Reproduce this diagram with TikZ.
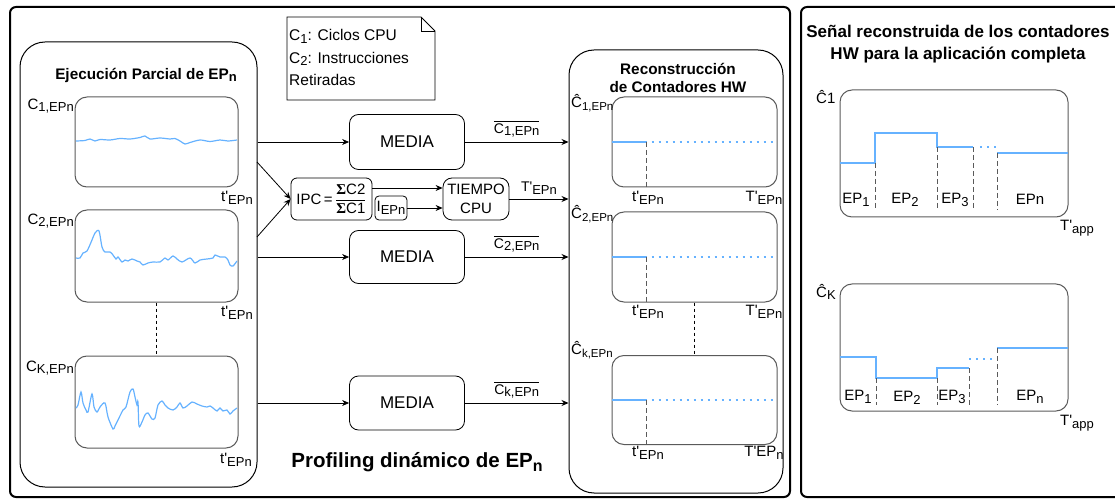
\documentclass[tikz,border=0pt]{standalone}
\usepackage{amsmath}
\usepackage{fontspec}
\setmainfont{Liberation Sans}
\newfontfamily\serifsym{Liberation Serif}
\usetikzlibrary{arrows.meta, positioning}

\definecolor{sigblue}{RGB}{102,178,255}
\definecolor{boxgray}{RGB}{90,90,90}
\newcommand{\sub}[1]{\raisebox{-0.35ex}{\fontsize{13}{13}\selectfont #1}}
\newcommand{\subs}[1]{\raisebox{-0.4ex}{\fontsize{11.5}{11.5}\selectfont #1}}
\newcommand{\tq}{\textquotesingle}
\newcommand{\sig}{{\serifsym\bfseries Σ}}

\begin{document}
\begin{tikzpicture} [x=1pt, y=-1pt,
    panel/.style = {draw, line width=1pt, rounded corners=25pt},
    plotbox/.style = {draw=boxgray, line width=1pt, rounded corners=12pt},
    blk/.style = {draw, line width=0.8pt, rounded corners=9pt, align=center},
    sig/.style = {sigblue, line width=1.2pt},
    dots/.style = {sigblue, line width=1.8pt, dash pattern=on 2pt off 5pt},
    lbl/.style = {font=\fontsize{15}{15}\selectfont, inner sep=0pt},
    arr/.style = {-{Stealth[length=7pt, width=6pt]}, line width=0.8pt},
    cut/.style = {boxgray, dash pattern=on 5pt off 3pt, line width=0.9pt},
    ttl/.style = {font=\bfseries\fontsize{15.3}{18}\selectfont, align=center}]
    \useasboundingbox (0,0) rectangle (1115,502);

    % frames
    \draw [line width=2pt, rounded corners=6pt] (10,7) rectangle (790,497);
    \draw [line width=2pt, rounded corners=6pt] (801,7) rectangle (1125,497);

    % partial execution
    \node (ejec) [panel, minimum width=237pt, minimum height=445pt] at (138.5,264.5) {};
    \node (ejtit) [ttl] at (146,75) {Ejecución Parcial de EP\sub{n}};
    \node (p1) [plotbox, minimum width=163pt, minimum height=90pt] at (156.5,142) {};
    \node (p2) [plotbox, minimum width=163pt, minimum height=92pt] at (156.5,256) {};
    \node (pk) [plotbox, minimum width=163pt, minimum height=92pt] at (156.5,402) {};
    \node (c1) [lbl, anchor=east] at (74,106) {C\sub{1,EPn}};
    \node (c2) [lbl, anchor=east] at (74,221) {C\sub{2,EPn}};
    \node (ck) [lbl, anchor=east] at (74,368) {C\sub{K,EPn}};
    \node (t1) [lbl] at (237,198) {t\tq\sub{EPn}};
    \node (t2) [lbl] at (237,313) {t\tq\sub{EPn}};
    \node (tk) [lbl] at (236,460) {t\tq\sub{EPn}};
    \draw [dashed] (p2) -- (pk);

    \draw [sig] plot [smooth, tension=0.5] coordinates {(76,141) (85,140.5) (90,139) (95,141) (100,139.5) (110,140) (120,138.5) (130,139) (140,137.5) (145,136) (150,139) (160,138) (170,139) (175,138.5) (180,141) (185,144) (190,142.5) (200,140) (210,141.5) (220,140) (228,141) (237,140)};
    \draw [sig] plot [smooth, tension=0.5] coordinates {(76,258) (80,258) (83,253) (87,251) (92,240) (95,233) (99,231) (102,247) (105,252) (110,252) (113,255) (116,259) (118,257) (122,262) (125,260) (128,261) (132,259) (137,261) (140,262) (143,265) (148,263) (153,262) (160,262) (165,258) (168,260) (173,256) (177,259) (182,262) (190,258) (195,263) (200,260) (207,259) (213,258) (215,255) (220,257) (225,257) (228,260) (230,265) (233,266) (237,261)};
    \draw [sig] plot [smooth, tension=0.5] coordinates {(76,408) (78,405) (81,392) (83,403) (86,410) (88,412) (92,394) (94,407) (97,412) (100,407) (105,403) (108,417) (113,429) (115,426) (118,420) (123,410) (126,407) (130,392) (133,389) (135,397) (137,405) (138,402) (139,426) (142,422) (145,415) (148,413) (152,419) (155,418) (158,405) (162,401) (165,405) (168,408) (173,410) (177,407) (180,403) (183,408) (187,406) (192,402) (197,404) (202,406) (207,407) (210,406) (213,408) (217,411) (220,408) (223,411) (227,410) (230,414) (233,411) (237,408)};

    % note
    \draw [line width=0.8pt] (287,17) -- (421,17) -- (435,31) -- (435,100) -- (287,100) -- cycle;
    \draw [line width=0.8pt] (421,17) -- (421,31) -- (435,31);
    \node (note) [anchor=west, align=left, inner sep=0pt, font=\fontsize{15.5}{22.5}\selectfont] at (289,57.5) {C\sub{1}: Ciclos CPU\\C\sub{2}: Instrucciones\\Retiradas};

    % profiling
    \node (media1) [blk, minimum width=115pt, minimum height=55pt, font=\fontsize{17}{17}\selectfont] at (407,142) {MEDIA};
    \node (media2) [blk, minimum width=115pt, minimum height=53pt, font=\fontsize{17}{17}\selectfont] at (407,257) {MEDIA};
    \node (mediak) [blk, minimum width=115pt, minimum height=54pt, font=\fontsize{17}{17}\selectfont] at (407,403) {MEDIA};
    \node (ipc) [blk, rounded corners=6pt, minimum width=81pt, minimum height=42pt, inner sep=1pt, font=\fontsize{15}{15}\selectfont] at (331.5,199) {IPC\,=\,$\dfrac{\text{\sig C2}}{\text{\sig C1}}$};
    \node (iep) [blk, rounded corners=4pt, minimum width=32pt, minimum height=24pt, inner sep=1pt, font=\fontsize{15}{15}\selectfont] at (391,208) {I\sub{EPn}};
    \node (tiempo) [blk, minimum width=66pt, minimum height=42pt, font=\fontsize{15}{19}\selectfont] at (476,199) {TIEMPO\\CPU};
    \node (proftit) [font=\bfseries\fontsize{20.5}{20.5}\selectfont] at (417,462) {Profiling dinámico de EP\raisebox{-0.4ex}{\fontsize{16}{16}\selectfont n}};

    \coordinate (e1) at (257,162);
    \coordinate (e2) at (257,237);
    \coordinate (i1) at (372,188);
    \path (i1 -| tiempo.west) coordinate (i2);
    \draw [arr] (ejec.east |- media1) -- (media1);
    \draw [arr] (e1) -- (ipc.west);
    \draw [arr] (e2) -- (ipc.west);
    \draw [arr] (ejec.east |- media2) -- (media2);
    \draw [arr] (ejec.east |- mediak) -- (mediak);
    \draw [arr] (i1) -- (i2);
    \draw [arr] (iep) -- (tiempo.west |- iep);

    % reconstruction
    \node (recon) [panel, minimum width=214pt, minimum height=443pt] at (676,271.5) {};
    \node (retit) [ttl] at (678,78) {Reconstrucción\\de Contadores HW};
    \node (r1) [plotbox, minimum width=165pt, minimum height=90pt] at (694.5,142) {};
    \node (r2) [plotbox, minimum width=165pt, minimum height=90pt] at (694.5,257) {};
    \node (rk) [plotbox, minimum width=165pt, minimum height=89pt] at (694.5,400) {};
    \draw [dashed] (r2) -- (rk);
    \foreach \r in {r1, r2, rk} {
        \draw [sig, line width=1.8pt] (\r.west) -- ++(35,0);
        \draw [cut] ([xshift=35pt]\r.west) -- ([xshift=35pt]\r.south west);
        \draw [dots] ([xshift=40pt]\r.west) -- ([xshift=-2pt]\r.east);
    }
    \node (h1) [lbl, anchor=west] at (571,103) {\^{C}\subs{1,EPn}};
    \node (h2) [lbl, anchor=west] at (571,214) {\^{C}\subs{2,EPn}};
    \node (hk) [lbl, anchor=west] at (571,350) {\^{C}\subs{k,EPn}};
    \node (u1) [lbl] at (648,198) {t\tq\sub{EPn}};
    \node (v1) [lbl] at (764,198) {T\tq\sub{EPn}};
    \node (u2) [lbl] at (648,312) {t\tq\sub{EPn}};
    \node (v2) [lbl] at (764,312) {T\tq\sub{EPn}};
    \node (uk) [lbl] at (648,453) {t\tq\sub{EPn}};
    \node (vk) [lbl] at (764,453) {T\tq EP\sub{n}};

    \draw [arr] (media1) -- (recon.west |- media1) node [midway, above=1pt, font=\fontsize{14}{14}\selectfont] {$\overline{\mbox{C\sub{1,EPn}}}$};
    \draw [arr] (tiempo) -- (recon.west |- tiempo) node [midway, above=1pt, font=\fontsize{14}{14}\selectfont] {T\tq\sub{EPn}};
    \draw [arr] (media2) -- (recon.west |- media2) node [midway, above=1pt, font=\fontsize{14}{14}\selectfont] {$\overline{\mbox{C\sub{2,EPn}}}$};
    \draw [arr] (mediak) -- (recon.west |- mediak) node [midway, above=1pt, font=\fontsize{14}{14}\selectfont] {$\overline{\mbox{C\sub{k,EPn}}}$};

    % full application
    \node (sentit) [ttl, font=\bfseries\fontsize{17}{21.5}\selectfont] at (958,44) {Señal reconstruida de los contadores\\HW para la aplicación completa};
    \node (a1) [plotbox, minimum width=228pt, minimum height=127pt] at (954,153.5) {};
    \node (ak) [plotbox, minimum width=228pt, minimum height=127pt] at (954,347.5) {};
    \node (ha1) [lbl, anchor=west] at (816,97) {\^{C}1};
    \node (hak) [lbl, anchor=west] at (816,292) {\^{C}\sub{K}};
    \node (ta1) [lbl] at (1077,228) {T\tq\sub{app}};
    \node (tak) [lbl] at (1077,423) {T\tq\sub{app}};

    \draw [sig, line width=1.8pt] (840,163) -| (875,133) -| (937,147) -- (973,147);
    \draw [dots] (980,147) -- (999,147);
    \draw [sig, line width=1.8pt] (997,153) -- (1068,153);
    \foreach \x/\y in {875/163, 937/147, 973/147, 997/153}
        \draw [cut] (\x,\y) -- (\x,210);
    \node (ep11) [lbl] at (856,200) {EP\sub{1}};
    \node (ep12) [lbl] at (905,200) {EP\sub{2}};
    \node (ep13) [lbl] at (955,200) {EP\sub{3}};
    \node (ep1n) [lbl] at (1030,199) {EPn};

    \draw [sig, line width=1.8pt] (840,357) -| (876,378) -| (937,368) -- (969,368);
    \draw [dots] (969,359) -- (992,359);
    \draw [sig, line width=1.8pt] (997,348) -- (1068,348);
    \foreach \x/\y in {876/378, 937/378, 969/368, 997/348}
        \draw [cut] (\x,\y) -- (\x,405);
    \node (epk1) [lbl] at (858,397) {EP\sub{1}};
    \node (epk2) [lbl] at (907,398) {EP\sub{2}};
    \node (epk3) [lbl] at (952,397) {EP\sub{3}};
    \node (epkn) [lbl] at (1030,397) {EP\sub{n}};
\end{tikzpicture}
\end{document}
